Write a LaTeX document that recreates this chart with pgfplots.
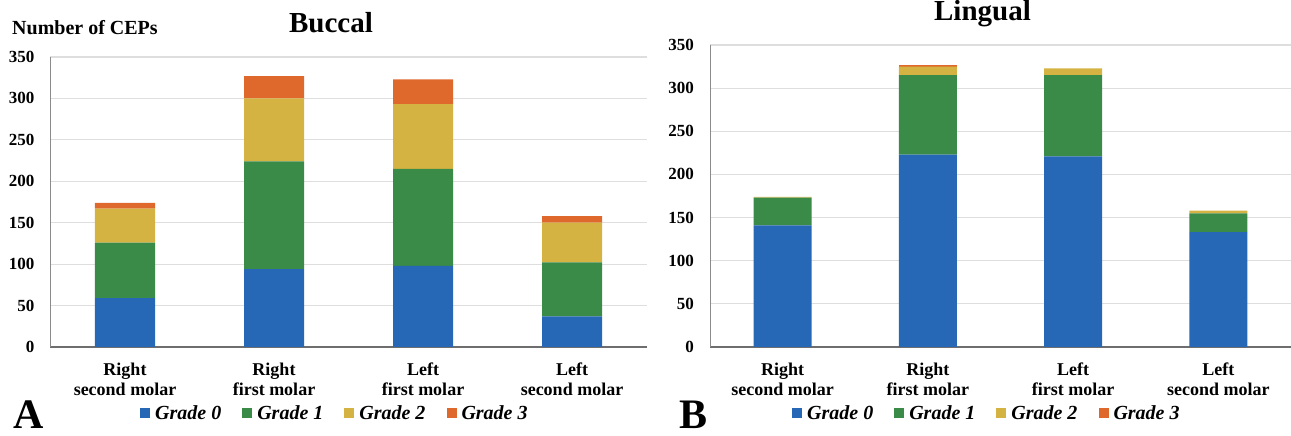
\documentclass[border=0pt]{standalone}
\usepackage{fontspec}
\setmainfont{Liberation Serif}
\usepackage{pgfplots}
\pgfplotsset{compat=1.18}
\definecolor{g0}{RGB}{38,104,182}
\definecolor{g1}{RGB}{58,138,72}
\definecolor{g2}{RGB}{213,179,66}
\definecolor{g3}{RGB}{223,105,44}
\definecolor{gridc}{RGB}{222,222,222}
\definecolor{axc}{RGB}{110,110,110}
\pgfplotsset{
  molar/.style={
    scale only axis,
    ybar stacked,
    xmin=-0.5, xmax=3.5, ymin=0, ymax=350,
    xtick={0,1,2,3},
    xticklabels={{Right\\second molar},{Right\\first molar},{Left\\first molar},{Left\\second molar}},
    ytick={0,50,...,350},
    ymajorgrids, grid style={draw=gridc, line width=1.1pt},
    axis x line*=bottom, axis y line*=left,
    x axis line style={-, draw=axc, line width=1.3pt},
    y axis line style={-, draw=axc!80, line width=1pt},
    major tick length=0pt,
    tick style={draw=none},
    xticklabel style={align=center, font=\fontsize{18}{20}\selectfont\bfseries, inner sep=0pt, anchor=north, yshift=-16pt},
    yticklabel style={font=\fontsize{17}{20}\selectfont\bfseries, inner sep=0pt, anchor=east, xshift=-16pt},
    /pgf/number format/assume math mode=true,
    legend columns=4,
    legend image code/.code={\fill[##1] (0pt,-5pt) rectangle (10pt,5pt);},
    legend style={draw=none, fill=none, inner sep=0pt, column sep=0pt,
      font=\fontsize{20}{22}\selectfont\bfseries\itshape,
      nodes={inner sep=0pt},
      /tikz/every odd column/.append style={column sep=5pt},
      /tikz/every even column/.append style={column sep=21pt}},
  }
}
\begin{document}
\begin{tikzpicture}
% Panel A: Buccal
\begin{axis}[molar, at={(50.5pt,89pt)}, anchor=south west,
  width=596pt, height=290pt, bar width=60pt,
  legend style={at={(axis description cs:0,0)}, anchor=west, xshift=89.5pt, yshift=-66pt}]
\addplot[fill=g0, draw=none] coordinates {(0,59) (1,94) (2,98) (3,37)};
\addplot[fill=g1, draw=none] coordinates {(0,67) (1,130) (2,117) (3,65)};
\addplot[fill=g2, draw=none] coordinates {(0,41) (1,76) (2,78) (3,48)};
\addplot[fill=g3, draw=none] coordinates {(0,7) (1,27) (2,30) (3,8)};
\legend{Grade 0, Grade 1, Grade 2, Grade 3}
\end{axis}
% Panel B: Lingual
\begin{axis}[molar, at={(710pt,89pt)}, anchor=south west,
  width=581pt, height=302pt, bar width=58pt,
  legend style={at={(axis description cs:0,0)}, anchor=west, xshift=82pt, yshift=-66pt}]
\addplot[fill=g0, draw=none] coordinates {(0,141) (1,223) (2,221) (3,133)};
\addplot[fill=g1, draw=none] coordinates {(0,32) (1,92) (2,94) (3,22)};
\addplot[fill=g2, draw=none] coordinates {(0,1) (1,10) (2,8) (3,3)};
\addplot[fill=g3, draw=none] coordinates {(0,0) (1,2) (2,0) (3,0)};
\legend{Grade 0, Grade 1, Grade 2, Grade 3}
\end{axis}
\node[anchor=base, inner sep=0pt, font=\fontsize{29}{32}\selectfont\bfseries] at (331pt,403.5pt) {Buccal};
\node[anchor=base, inner sep=0pt, font=\fontsize{29}{32}\selectfont\bfseries] at (982.5pt,415.5pt) {Lingual};
\node[anchor=base west, inner sep=0pt, font=\fontsize{20}{22}\selectfont\bfseries] at (12pt,401pt) {Number of CEPs};
\node[anchor=base west, inner sep=0pt, font=\fontsize{42}{44}\selectfont\bfseries] at (13pt,7pt) {A};
\node[anchor=base west, inner sep=0pt, font=\fontsize{42}{44}\selectfont\bfseries] at (679pt,7pt) {B};
\pgfresetboundingbox
\useasboundingbox (0pt,0pt) rectangle (1291pt,436pt);
\end{tikzpicture}
\end{document}
